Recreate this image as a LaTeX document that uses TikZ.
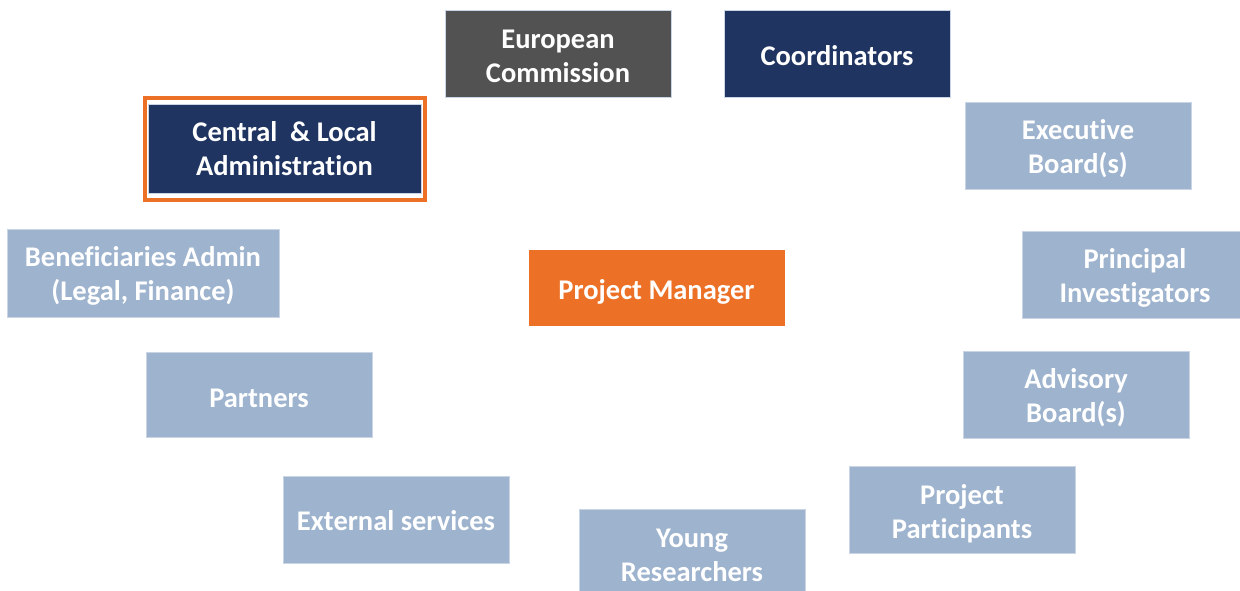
\documentclass[tikz,border=0pt]{standalone}
\usepackage{fontspec}
\setmainfont{Carlito}[Ligatures=NoCommon]
\definecolor{navy}{HTML}{1F3461}
\definecolor{greybox}{HTML}{525252}
\definecolor{orangebox}{HTML}{EC7126}
\definecolor{lightbox}{HTML}{9DB3CE}
\definecolor{edgecol}{HTML}{C9D5E4}
\tikzset{
  box/.style={rectangle, inner sep=0pt, draw=edgecol, line width=0.8pt},
  txt/.style={inner sep=0pt, align=center, text=white,
    font=\fontsize{28.5}{34}\selectfont\bfseries},
  lightnode/.style={box, fill=lightbox},
  navynode/.style={box, fill=navy},
  greynode/.style={box, fill=greybox},
  pmnode/.style={box, fill=orangebox, draw=orangebox},
  frame/.style={draw=orangebox, line width=4pt}
}
\begin{document}
\begin{tikzpicture}[x=1pt,y=-1pt]
\useasboundingbox (0,0) rectangle (1240,591);
\node[greynode, minimum width=226pt, minimum height=87pt,
  label={[txt, yshift=-3pt]center:{European\\Commission}}] (ec) at (558,53.5) {};
\node[navynode, minimum width=226pt, minimum height=87pt,
  label={[txt, yshift=-2pt]center:{Coordinators}}] (coord) at (837,53.5) {};
\node[navynode, minimum width=273pt, minimum height=89pt,
  label={[txt]center:{Central\ \ \&~Local\\Administration}}] (cla) at (284.5,148.5) {};
\coordinate (fnw) at (145,98);
\coordinate (fse) at (425,200);
\draw[frame] (fnw) rectangle (fse);
\node[lightnode, minimum width=272pt, minimum height=88pt,
  label={[txt, yshift=-3pt]center:{Beneficiaries Admin\\(Legal, Finance)}}] (ben) at (143,273) {};
\node[pmnode, minimum width=255pt, minimum height=75pt,
  label={[txt, yshift=-4pt]center:{Project Manager}}] (pm) at (656.5,287.5) {};
\node[lightnode, minimum width=226pt, minimum height=85pt,
  label={[txt, yshift=-4pt]center:{Partners}}] (partners) at (259,394.5) {};
\node[lightnode, minimum width=226pt, minimum height=87pt,
  label={[txt, yshift=-1pt]center:{External services}}] (ext) at (396,519.5) {};
\node[lightnode, minimum width=226pt, minimum height=92pt,
  label={[txt]center:{Young\\Researchers}}] (young) at (692,555) {};
\node[lightnode, minimum width=226pt, minimum height=87pt,
  label={[txt, yshift=-4pt]center:{Project\\Participants}}] (part) at (962,509.5) {};
\node[lightnode, minimum width=226pt, minimum height=87pt,
  label={[txt, yshift=-3pt]center:{Advisory\\Board(s)}}] (adv) at (1076,394.5) {};
\node[lightnode, minimum width=218pt, minimum height=87pt,
  label={[txt, yshift=-3pt, xshift=4pt]center:{Principal\\Investigators}}] (pi) at (1131,274.5) {};
\node[lightnode, minimum width=226pt, minimum height=87pt,
  label={[txt, yshift=-3.5pt]center:{Executive\\Board(s)}}] (exec) at (1078,145.5) {};
\end{tikzpicture}
\end{document}
